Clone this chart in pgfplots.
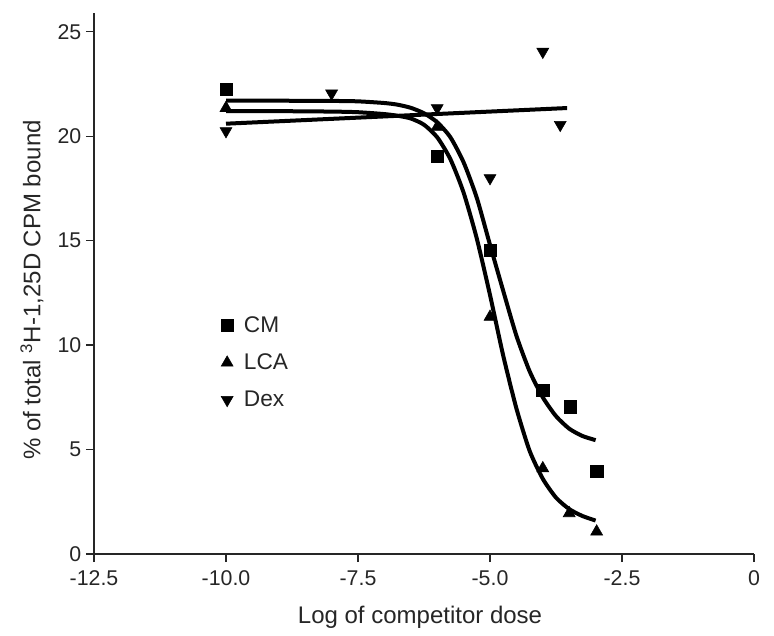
\documentclass[border=0pt]{standalone}
\usepackage{pgfplots}
\pgfplotsset{compat=1.18}
\usepackage{fontspec}
\setmainfont{Liberation Sans}
\begin{document}
\begin{tikzpicture}
\begin{axis}[
  at={(0,0)}, anchor=south west,
  scale only axis, width=495pt, height=405.75pt,
  xmin=-12.5, xmax=0, ymin=0, ymax=25.9,
  axis x line*=bottom, axis y line*=left,
  axis line style={line width=1pt, black!85},
  xtick={-12.5,-10,-7.5,-5,-2.5,0},
  xticklabels={-12.5,-10.0,-7.5,-5.0,-2.5,0},
  ytick={0,5,10,15,20,25},
  tick align=outside, major tick length=6pt,
  tick style={line width=1pt, black!85},
  /pgf/number format/assume math mode=true,
  tick label style={font=\fontsize{16}{19}\selectfont, text=black!85},
  xticklabel style={yshift=-3pt},
  xlabel={Log of competitor dose},
  ylabel={\% of total \textsuperscript{3}H-1,25D CPM bound},
  label style={font=\fontsize{18}{21}\selectfont, text=black!85},
  xlabel style={at={(axis description cs:0.494,-0.128)}, anchor=base},
  ylabel style={at={(axis description cs:-0.094,0.488)}, anchor=center},
  legend style={draw=none, fill=none, at={(axis description cs:0.186,0.449)}, anchor=north west,
    font=\fontsize{17}{20}\selectfont, text=black!85, row sep=10.5pt, column sep=6pt},
  legend cell align=left,
]
% data points
\addplot[only marks, mark=square*, mark size=4.6pt, black] coordinates {
  (-10,22.25) (-6,19.05) (-5,14.55) (-4,7.85) (-3.48,7.05) (-2.98,3.97)
};
\addlegendentry{CM}
\addplot[only marks, mark=triangle*, mark size=5.2pt, black] coordinates {
  (-10,21.35) (-6,20.45) (-5,11.35) (-4,4.1) (-3.5,1.95) (-2.98,1.07)
};
\addlegendentry{LCA}
\addplot[only marks, mark=triangle*, mark size=5.2pt, mark options={rotate=180}, black] coordinates {
  (-10,20.25) (-8,22.05) (-6,21.35) (-5,18.0) (-4,24.05) (-3.67,20.55)
};
\addlegendentry{Dex}
% fitted curves
\addplot[forget plot, no marks, black, line width=3pt, smooth, tension=0.4] coordinates {
  (-10,21.70) (-9,21.70) (-8,21.69) (-7.5,21.67) (-7,21.59) (-6.75,21.51) (-6.5,21.36)
  (-6.25,21.10) (-6,20.67) (-5.75,19.95) (-5.5,18.75) (-5.25,17.05) (-5,14.8)
  (-4.75,12.6) (-4.5,10.45) (-4.25,8.75) (-4,7.5) (-3.75,6.6) (-3.5,6.0) (-3.25,5.65) (-3,5.45)
};
\addplot[forget plot, no marks, black, line width=3pt, smooth, tension=0.4] coordinates {
  (-10,21.20) (-9,21.20) (-8,21.18) (-7.5,21.15) (-7,21.06) (-6.75,20.98) (-6.5,20.85)
  (-6.25,20.55) (-6,19.95) (-5.75,18.9) (-5.5,17.3) (-5.25,15.1) (-5,12.4)
  (-4.75,9.5) (-4.5,6.97) (-4.25,4.94) (-4,3.6) (-3.75,2.7) (-3.5,2.15) (-3.25,1.82) (-3,1.6)
};
\addplot[forget plot, no marks, black, line width=3pt] coordinates {
  (-10,20.6) (-3.54,21.35)
};
\end{axis}
\pgfresetboundingbox
\path (-70.5pt,-60.75pt) rectangle (510pt,415.5pt);
\end{tikzpicture}
\end{document}
